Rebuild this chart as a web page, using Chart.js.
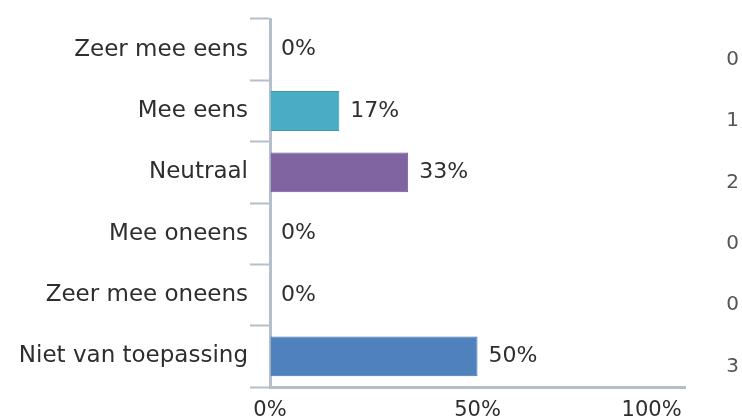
<!DOCTYPE html>
<html>
<head>
<meta charset="utf-8">
<script src="https://cdn.jsdelivr.net/npm/chart.js@4"></script>
<style>
  html, body { margin: 0; padding: 0; background: #fff; }
  #wrap { width: 742px; height: 419px; }
</style>
</head>
<body>
<div id="wrap"><canvas id="answersChart" width="742" height="419"></canvas></div>
<script>
// answer options, share of answers (%) and number of answers
const answers = ['Zeer mee eens', 'Mee eens', 'Neutraal', 'Mee oneens', 'Zeer mee oneens', 'Niet van toepassing'];
const percentages = [0, 16.7, 33.3, 0, 0, 50];
const counts = [0, 1, 2, 0, 0, 3];
const xTicks = [0, 50, 100];
const barColors = ['#4bacc6', '#4bacc6', '#8064a2', '#4f81bd', '#4f81bd', '#4f81bd'];
const barBorders = ['#3f97ae', '#3f97ae', '#6d5490', '#3f6fa8', '#3f6fa8', '#3f6fa8'];

const axisColor = '#b5bfcb';
const textColor = '#2e2e2e';
const fontFamily = '"DejaVu Sans", Verdana, sans-serif';

// percentage text at the end of every bar
const valueLabels = {
    id: 'valueLabels',
    afterDatasetsDraw(chart) {
        const ctx = chart.ctx;
        const meta = chart.getDatasetMeta(0);
        ctx.save();
        ctx.font = '22px ' + fontFamily;
        ctx.fillStyle = textColor;
        ctx.textAlign = 'left';
        ctx.textBaseline = 'middle';
        meta.data.forEach(function(bar, i) {
            ctx.fillText(Math.round(percentages[i]) + '%', bar.x + 11, bar.y);
        });
        ctx.restore();
    }
};

const chart = new Chart(document.getElementById('answersChart'), {
    type: 'bar',
    data: {
        labels: answers,
        datasets: [{
            data: percentages,
            backgroundColor: barColors,
            borderColor: barBorders,
            borderWidth: 1,
            barPercentage: 0.65,
            categoryPercentage: 1
        }]
    },
    options: {
        indexAxis: 'y',
        responsive: false,
        animation: false,
        layout: { padding: { top: 19, right: 3, left: 0, bottom: 0 } },
        plugins: {
            legend: { display: false },
            tooltip: { enabled: false }
        },
        scales: {
            x: {
                min: 0,
                max: 100,
                afterBuildTicks: function(scale) {
                    scale.ticks = xTicks.map(function(v) { return { value: v }; });
                },
                afterFit: function(scale) {
                    scale.height = 32;
                    scale.paddingRight = 0;
                    scale.paddingLeft = 0;
                },
                ticks: {
                    color: textColor,
                    font: { family: fontFamily, size: 21 },
                    padding: 11,
                    // last label sits left of the axis end, like the original
                    callback: function(v) {
                        return v === 100 ? v + '%' + ' '.repeat(10) : v + '%';
                    }
                },
                grid: { drawOnChartArea: false, drawTicks: false },
                border: { color: axisColor, width: 3 }
            },
            y: {
                afterFit: function(scale) { scale.width = 270; },
                ticks: {
                    color: textColor,
                    font: { family: fontFamily, size: 23 },
                    padding: 2
                },
                grid: {
                    offset: true,
                    drawOnChartArea: false,
                    tickLength: 20,
                    tickColor: axisColor,
                    tickWidth: 2
                },
                border: { color: axisColor, width: 3 }
            },
            counts: {
                type: 'category',
                position: 'right',
                labels: counts.map(String),
                offset: true,
                afterFit: function(scale) { scale.width = 54; },
                ticks: {
                    color: '#555555',
                    font: { family: fontFamily, size: 20 },
                    crossAlign: 'far',
                    labelOffset: 10,
                    padding: 0
                },
                grid: { display: false },
                border: { display: false }
            }
        }
    },
    plugins: [valueLabels]
});
</script>
</body>
</html>
